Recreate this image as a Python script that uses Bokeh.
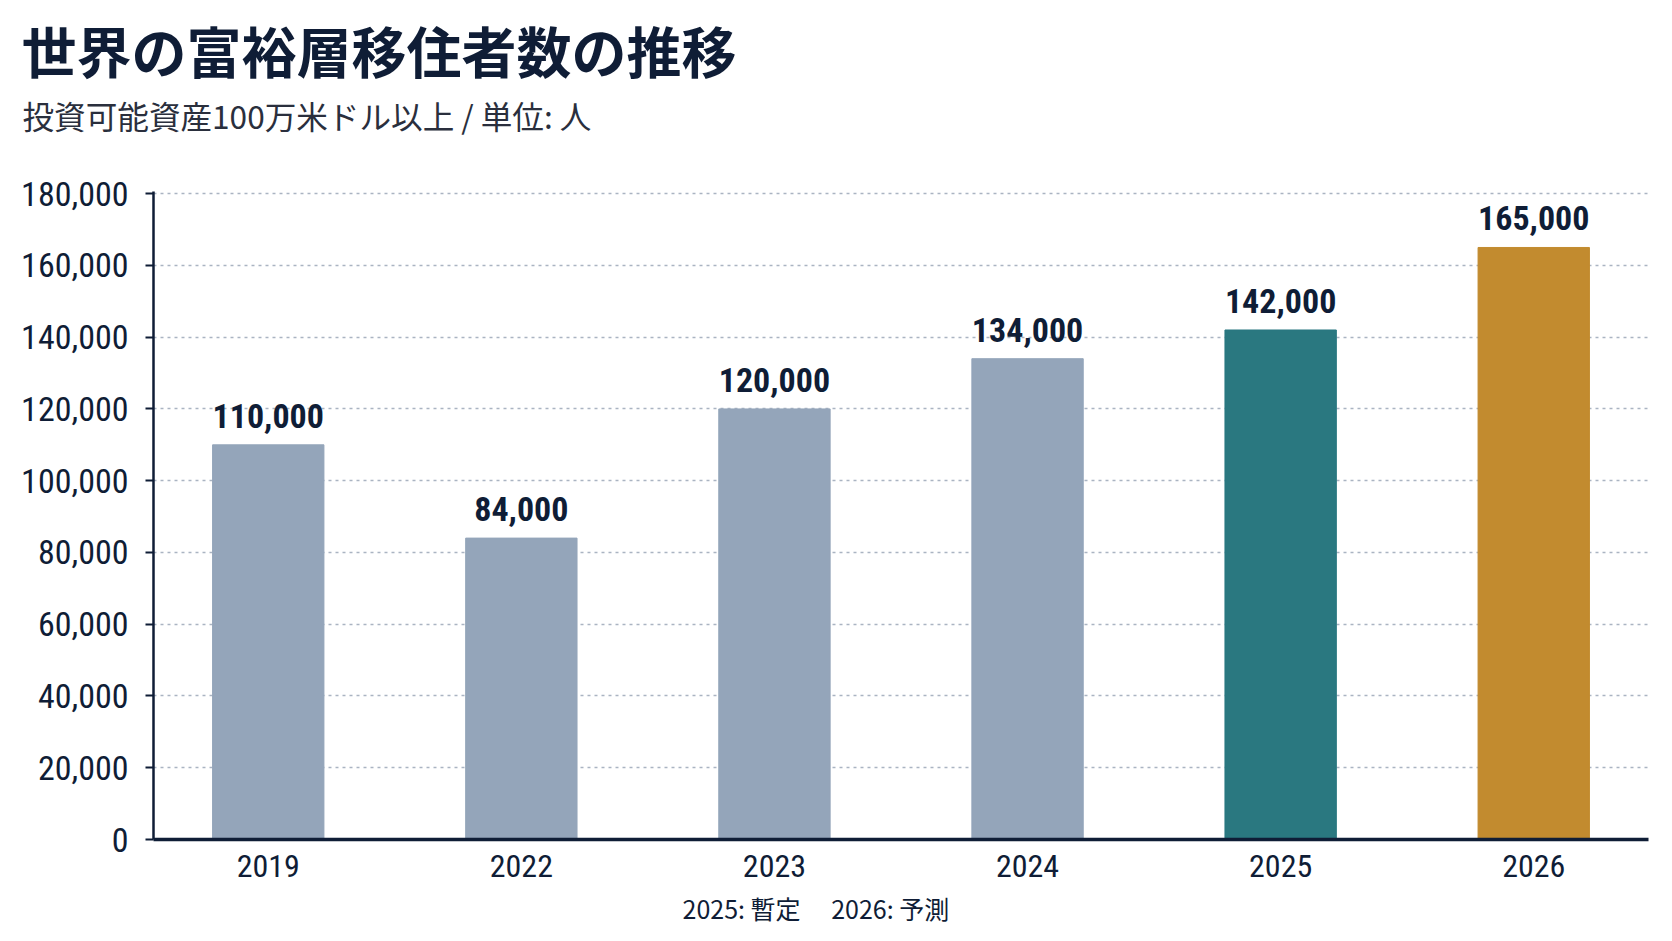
from bokeh.plotting import figure
from bokeh.layouts import column
from bokeh.models import ColumnDataSource, Title, NumeralTickFormatter, FixedTicker, FactorRange
from bokeh.core.properties import value
from bokeh.embed import file_html
from bokeh.resources import INLINE

years = ["2019", "2022", "2023", "2024", "2025", "2026"]
migrants = [110000, 84000, 120000, 134000, 142000, 165000]
bar_colors = ["#94a5ba", "#94a5ba", "#94a5ba", "#94a5ba", "#2a7880", "#c28b2f"]
y_ticks = [0, 20000, 40000, 60000, 80000, 100000, 120000, 140000, 160000, 180000]

title_text = "世界の富裕層移住者数の推移"
subtitle_text = "投資可能資産100万米ドル以上 / 単位: 人"
note_text = "2025: 暫定　 2026: 予測"

NAVY = "#0f1d36"
NUM_FONT = "'Roboto Condensed', 'Liberation Sans Narrow', Roboto"
JP_FONT = "Noto Sans CJK JP"

W = 1656
H_MAIN, H_NOTE = 889, 36
B_LEFT, B_RIGHT, B_TOP, B_BOTTOM = 153, 8, 191, 50

source = ColumnDataSource(dict(
    year=years,
    count=migrants,
    color=bar_colors,
    label=["{:,}".format(v) for v in migrants],
))

p = figure(
    x_range=FactorRange(factors=years, range_padding=-0.0466, range_padding_units="absolute"),
    y_range=(0, 180600),
    width=W, height=H_MAIN,
    output_backend="svg", toolbar_location=None,
    min_border_left=B_LEFT, min_border_right=B_RIGHT,
    min_border_top=B_TOP, min_border_bottom=B_BOTTOM,
)
p.title.visible = False

p.vbar(x="year", top="count", width=0.44, color="color", source=source)
p.text(x="year", y="count", text="label", source=source,
       text_align="center", text_baseline="bottom", y_offset=-17,
       text_font=value(NUM_FONT), text_font_size="34px",
       text_color=NAVY, text_font_style="bold")

p.outline_line_color = None
p.background_fill_color = "white"
p.border_fill_color = "white"

p.xgrid.grid_line_color = None
p.ygrid.grid_line_color = "#aab4c2"
p.ygrid.grid_line_width = 1.5
p.ygrid.grid_line_dash = "3 4"
p.ygrid.ticker = FixedTicker(ticks=y_ticks)

p.yaxis.ticker = FixedTicker(ticks=y_ticks)
p.yaxis.formatter = NumeralTickFormatter(format="0,0")
p.yaxis.axis_line_color = NAVY
p.yaxis.axis_line_width = 2.5
p.yaxis.major_tick_line_color = NAVY
p.yaxis.major_tick_line_width = 2
p.yaxis.major_tick_out = 8
p.yaxis.major_tick_in = 0
p.yaxis.minor_tick_line_color = None
p.yaxis.major_label_standoff = 17
p.yaxis.major_label_text_font = NUM_FONT
p.yaxis.major_label_text_font_size = "34px"
p.yaxis.major_label_text_color = NAVY

p.xaxis.axis_line_color = NAVY
p.xaxis.axis_line_width = 3.5
p.xaxis.major_tick_line_color = None
p.xaxis.minor_tick_line_color = None
p.xaxis.major_label_standoff = 9
p.xaxis.major_label_text_font = NUM_FONT
p.xaxis.major_label_text_font_size = "32px"
p.xaxis.major_label_text_color = NAVY

spacer = Title(text=" ", align="left", standoff=37,
               text_font=JP_FONT, text_font_size="10px")
p.add_layout(spacer, "above")
sub = Title(text=subtitle_text, align="left", offset=-131, standoff=0,
            text_font=JP_FONT, text_font_size="31.6px",
            text_font_style="normal", text_color="#2a2f3d")
p.add_layout(sub, "above")
main = Title(text=title_text, align="left", offset=-132, standoff=1,
             text_font=JP_FONT, text_font_size="55px",
             text_font_style="bold", text_color=NAVY)
p.add_layout(main, "above")

# footnote strip below the chart
q = figure(width=W, height=H_NOTE, x_range=(0, W), y_range=(0, H_NOTE),
           x_axis_type=None, y_axis_type=None,
           output_backend="svg", toolbar_location=None,
           min_border=0, min_border_left=0, min_border_right=0,
           min_border_top=0, min_border_bottom=0)
q.title.visible = False
q.grid.visible = False
q.outline_line_color = None
q.background_fill_color = "white"
q.border_fill_color = "white"
q.text(x=[586], y=[18], text=[note_text], text_align="left", text_baseline="middle",
       text_font=value(JP_FONT), text_font_size="25px", text_color=NAVY)

layout = column(p, q, spacing=0)
open("out.html", "w").write(file_html(layout, INLINE))
